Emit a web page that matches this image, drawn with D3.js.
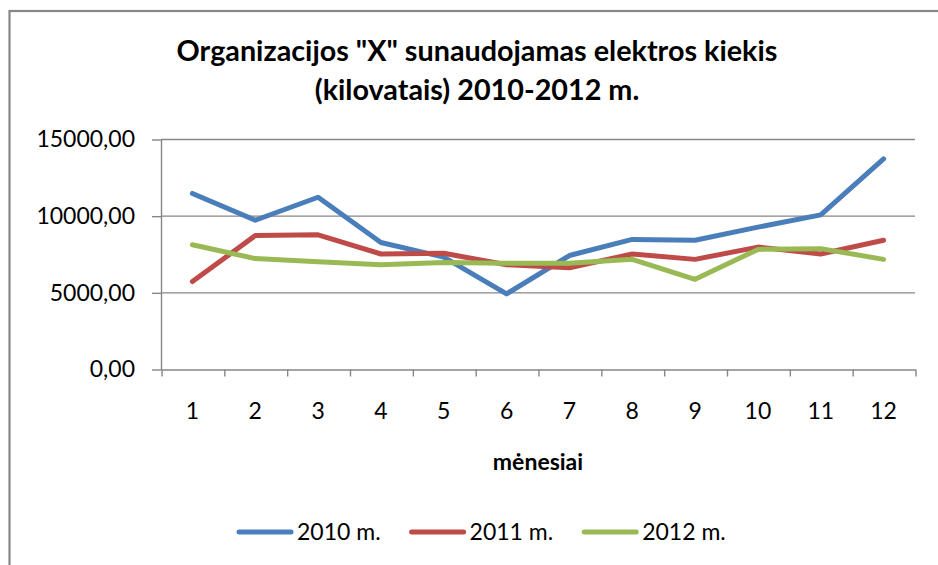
<!DOCTYPE html>
<html><head><meta charset="utf-8">
<script src="https://cdn.jsdelivr.net/npm/d3@7"></script>
<style>
body{margin:0;background:#fff}
text{font-family:Lato,'Open Sans',sans-serif;fill:#000}
</style>
</head><body>
<svg id="c" width="938" height="565"></svg>
<script>
const months = ["1","2","3","4","5","6","7","8","9","10","11","12"];
const seriesNames = ["2010 m.","2011 m.","2012 m."];
const values2010 = [11450, 9700, 11200, 8250, 7300, 4900, 7400, 8450, 8400, 9250, 10050, 13700];
const values2011 = [5700, 8700, 8750, 7500, 7550, 6800, 6600, 7500, 7150, 7950, 7500, 8400];
const values2012 = [8100, 7200, 7000, 6800, 6950, 6900, 6900, 7150, 5850, 7800, 7850, 7150];
const yTicks = [0, 5000, 10000, 15000];
const titleLines = ['Organizacijos "X" sunaudojamas elektros kiekis', '(kilovatais) 2010-2012 m.'];
const xTitle = "mėnesiai";
const colors = ["#4A7EBB", "#BE4B48", "#98B954"];

const series = [values2010, values2011, values2012];
const svg = d3.select("#c");
const gray = "#868686";
const L = 161, R = 915, T = 139, B = 369;

// outer chart border
svg.append("rect").attr("x", 9.5).attr("y", 11).attr("width", 960).attr("height", 600)
  .attr("fill", "#fff").attr("stroke", gray).attr("stroke-width", 2.2);

function fitWidth(sel, target) {
  const w = sel.node().getComputedTextLength();
  const fs = parseFloat(sel.attr("font-size"));
  sel.attr("font-size", fs * target / w);
}

// title
const cx = 477;
const t1 = svg.append("text").attr("x", cx).attr("y", 61).attr("text-anchor", "middle")
  .attr("font-weight", "bold").attr("font-size", 24).text(titleLines[0]);
fitWidth(t1, 601);
const t2 = svg.append("text").attr("x", cx).attr("y", 100).attr("text-anchor", "middle")
  .attr("font-weight", "bold").attr("font-size", t1.attr("font-size")).text(titleLines[1]);

const x = d3.scaleBand().domain(months).range([L, R]);
const xb = d3.scaleLinear().domain([0, months.length]).range([L, R]);
const y = d3.scaleLinear().domain([0, 15000]).range([B, T]);

// gridlines
svg.append("g").selectAll("line").data(yTicks.filter(d => d > 0)).join("line")
  .attr("x1", L).attr("x2", R).attr("y1", d => y(d) + 0.5).attr("y2", d => y(d) + 0.5)
  .attr("stroke", gray).attr("stroke-width", 1.4);

// y axis
const ya = svg.append("g").attr("transform", `translate(${L},0.5)`)
  .call(d3.axisLeft(y).tickValues(yTicks).tickSize(9).tickSizeOuter(0).tickPadding(17)
    .tickFormat(d => d3.format(".2f")(d).replace(".", ",")));
ya.selectAll("path,line").attr("stroke", gray).attr("stroke-width", 1.4);
ya.selectAll("text").attr("font-size", 23).attr("font-family", "Lato,'Open Sans',sans-serif").attr("fill", "#000");

// x axis ticks at band boundaries
const xt = svg.append("g").attr("transform", `translate(0.5,${B + 0.5})`)
  .call(d3.axisBottom(xb).tickValues(d3.range(months.length + 1)).tickSize(7).tickSizeOuter(0).tickFormat(""));
xt.selectAll("path,line").attr("stroke", gray).attr("stroke-width", 1.4);

// x labels at band centers
const xl = svg.append("g").attr("transform", `translate(0,${B})`)
  .call(d3.axisBottom(x).tickSize(0).tickSizeOuter(0));
xl.select(".domain").remove();
xl.selectAll("text").attr("y", 50).attr("dy", null).attr("font-size", 23)
  .attr("font-family", "Lato,'Open Sans',sans-serif").attr("fill", "#000");

// x axis title
svg.append("text").attr("x", 538).attr("y", 470).attr("text-anchor", "middle")
  .attr("font-weight", "bold").attr("font-size", 23).text(xTitle);

// lines
const line = d3.line().x((d, i) => x(months[i]) + x.bandwidth() / 2).y(d => y(d));
svg.append("g").selectAll("path").data(series).join("path")
  .attr("d", d => line(d)).attr("fill", "none")
  .attr("stroke", (d, i) => colors[i]).attr("stroke-width", 5)
  .attr("stroke-linecap", "round").attr("stroke-linejoin", "round");

// legend
let lx = 239;
const ly = 532;
seriesNames.forEach((name, i) => {
  const g = svg.append("g");
  g.append("line").attr("x1", lx).attr("x2", lx + 52).attr("y1", ly).attr("y2", ly)
    .attr("stroke", colors[i]).attr("stroke-width", 5).attr("stroke-linecap", "round");
  const t = g.append("text").attr("x", lx + 58).attr("y", ly + 8).attr("font-size", 23).text(name);
  lx += 58 + t.node().getComputedTextLength() + 31;
});
</script>
</body></html>
